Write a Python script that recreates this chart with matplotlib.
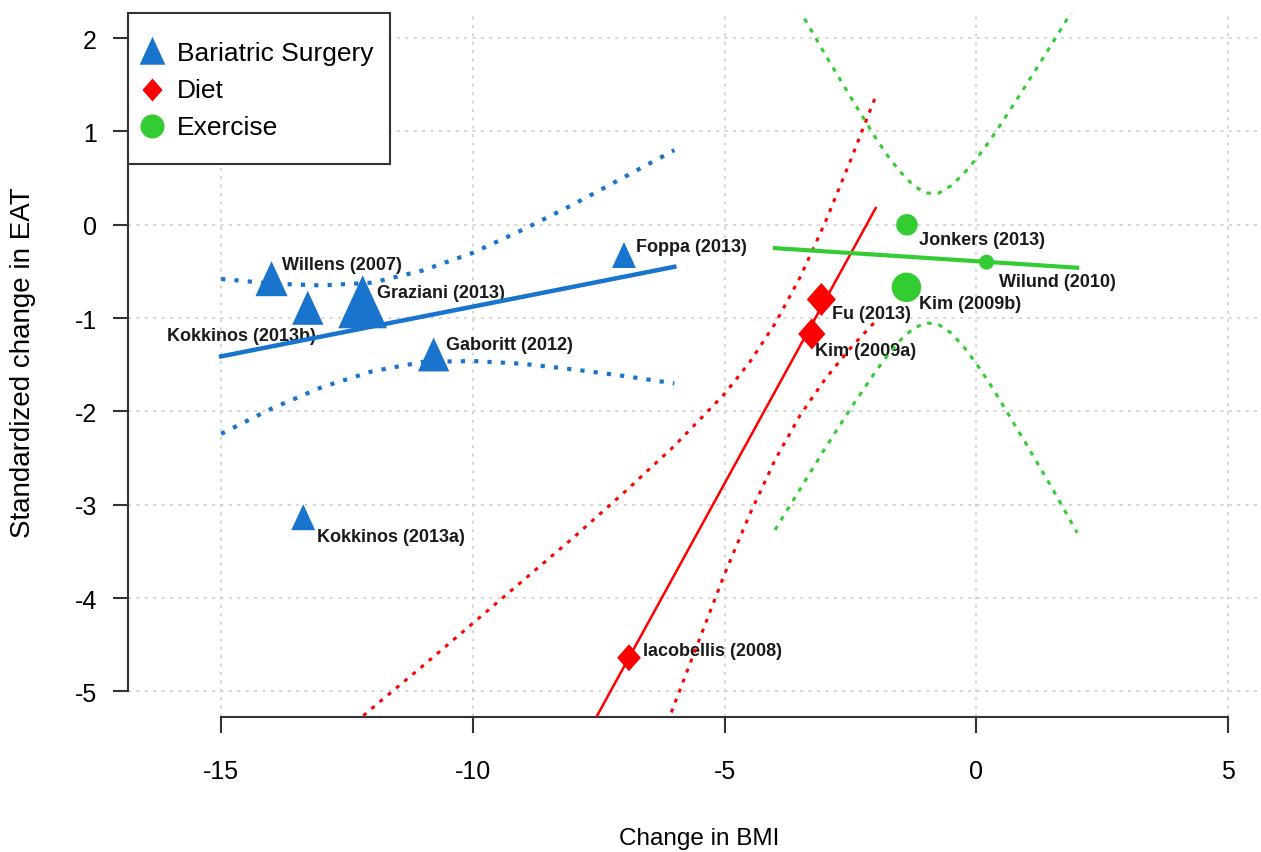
import matplotlib
matplotlib.use('Agg')
import matplotlib.pyplot as plt
from matplotlib.path import Path
from matplotlib.lines import Line2D
from matplotlib.patches import Rectangle

plt.rcParams['font.family'] = ['Liberation Sans', 'DejaVu Sans']
plt.rcParams['axes.unicode_minus'] = False

# --- bariatric surgery studies
bs_study = ['Willens (2007)', 'Kokkinos (2013b)', 'Graziani (2013)',
            'Gaboritt (2012)', 'Foppa (2013)', 'Kokkinos (2013a)']
bs_x = [-14.0, -13.28, -12.19, -10.78, -7.0, -13.37]
bs_y = [-0.64, -0.95, -0.92, -1.45, -0.37, -3.18]
bs_size = [35, 34, 53, 34, 26, 26]          # marker height, px

# --- diet studies
diet_study = ['Fu (2013)', 'Kim (2009a)', 'Iacobellis (2008)']
diet_x = [-3.08, -3.27, -6.90]
diet_y = [-0.80, -1.17, -4.64]
diet_size = [33, 31, 27]

# --- exercise studies
ex_study = ['Jonkers (2013)', 'Wilund (2010)', 'Kim (2009b)']
ex_x = [-1.38, 0.2, -1.39]
ex_y = [0.0, -0.40, -0.67]
ex_size = [21.5, 15, 29.5]

# --- meta-regression lines
bs_fit_x = [-15, -6]
bs_fit_y = [-1.41, -0.45]
diet_fit_x = [-8, -2]
diet_fit_y = [-5.72, 0.18]
ex_fit_x = [-4, 2]
ex_fit_y = [-0.25, -0.46]

# --- confidence bands
bs_band_x = [-15, -14, -13, -12, -11, -10, -9, -8, -7, -6]
bs_band_hi = [-0.58, -0.63, -0.65, -0.62, -0.49, -0.30, -0.05, 0.22, 0.51, 0.80]
bs_band_lo = [-2.24, -1.97, -1.74, -1.57, -1.47, -1.46, -1.49, -1.55, -1.62, -1.70]

diet_band_x = [-12.5, -12, -11, -10, -9, -8, -7, -6, -5, -4.5, -4, -3.5, -3, -2.5, -2]
diet_band_hi = [-5.41, -5.18, -4.73, -4.27, -3.81, -3.35, -2.87, -2.37, -1.81,
                -1.47, -1.06, -0.56, 0.03, 0.69, 1.38]
diet_band_lo = [-14.89, -14.13, -12.62, -11.10, -9.60, -8.10, -6.61, -5.14, -3.74,
                -3.10, -2.52, -2.04, -1.65, -1.32, -1.03]

ex_band_x = [-4, -3.5, -3, -2.5, -2, -1.75, -1.5, -1.25, -1, -0.75, -0.5, -0.25,
             0, 0.25, 0.5, 1, 1.5, 2]
ex_band_hi = [2.77, 2.29, 1.82, 1.37, 0.93, 0.73, 0.56, 0.42, 0.34, 0.34, 0.42, 0.55,
              0.71, 0.89, 1.09, 1.51, 1.94, 2.38]
ex_band_lo = [-3.27, -2.83, -2.39, -1.97, -1.57, -1.39, -1.23, -1.11, -1.05, -1.07,
              -1.16, -1.31, -1.49, -1.69, -1.91, -2.36, -2.82, -3.30]

# label offsets in pixels (dx, dy, ha)
bs_off = [(10, 20.5, 'left'), (8.5, -22.3, 'right'), (14.5, 18.2, 'left'),
          (12.2, 15.5, 'left'), (12, 13, 'left'), (13.7, -15.2, 'left')]
diet_off = [(11, -14.3, 'left'), (3, -16.4, 'left'), (13.7, 7, 'left')]
ex_off = [(12.4, -15, 'left'), (12, -19.2, 'left'), (13, -16, 'left')]

BLUE = '#1874CD'
RED = '#FF0000'
GREEN = '#33CC33'

tri = Path([(0, 1), (0.69, -0.5), (-0.69, -0.5), (0, 1)], closed=True)
diamond = Path([(0, 1), (0.88, 0), (0, -1), (-0.88, 0), (0, 1)], closed=True)
# legend versions, nudged down a little so they sit level with the text
tri_leg = Path([(0, 0.79), (0.69, -0.71), (-0.69, -0.71), (0, 0.79)], closed=True)
dia_leg = Path([(0, 0.87), (0.88, -0.13), (0, -1.13), (-0.88, -0.13), (0, 0.87)],
               closed=True)
circ_leg = Path.circle(center=(0, -0.08), radius=1)

fig = plt.figure(figsize=(12.61, 8.53), dpi=100)
ax = fig.add_axes([128 / 1261, 1 - 718 / 853, (1270 - 128) / 1261, (718 - 14) / 853])
ax.set_xlim(-16.85, 5.83)
ax.set_ylim(-5.275, 2.27)

ax.set_xticks([-15, -10, -5, 0, 5])
ax.set_yticks([-5, -4, -3, -2, -1, 0, 1, 2])
ax.tick_params(axis='x', length=11.5, width=1.5, pad=19, labelsize=18, color='#333333')
ax.tick_params(axis='y', length=11, width=1.5, pad=11.5, labelsize=18, color='#333333')
for side in ['top', 'right']:
    ax.spines[side].set_visible(False)
ax.spines['left'].set_bounds(-5, 2)
ax.spines['bottom'].set_bounds(-15, 5)
for side in ['left', 'bottom']:
    ax.spines[side].set_linewidth(1.5)
    ax.spines[side].set_color('#333333')
ax.grid(True, color='#cccccc', linestyle=(0, (2, 3.5)), linewidth=1.1)
ax.set_axisbelow(True)

# bands and fits
ax.plot(bs_band_x, bs_band_hi, color=BLUE, lw=3, dashes=(1, 2.2), zorder=3)
ax.plot(bs_band_x, bs_band_lo, color=BLUE, lw=3, dashes=(1, 2.2), zorder=3)
ax.plot(bs_fit_x, bs_fit_y, color=BLUE, lw=3.2, zorder=3)

ax.plot(diet_band_x, diet_band_hi, color=RED, lw=2.2, dashes=(1.3, 2.2), zorder=3)
ax.plot(diet_band_x, diet_band_lo, color=RED, lw=2.2, dashes=(1.3, 2.2), zorder=3)
ax.plot(diet_fit_x, diet_fit_y, color=RED, lw=1.8, zorder=3)

ax.plot(ex_band_x, ex_band_hi, color=GREEN, lw=2.2, dashes=(1.5, 2.2), zorder=3)
ax.plot(ex_band_x, ex_band_lo, color=GREEN, lw=2.2, dashes=(1.5, 2.2), zorder=3)
ax.plot(ex_fit_x, ex_fit_y, color=GREEN, lw=3, zorder=3)

# points
ax.scatter(bs_x, bs_y, s=[(h * 0.96) ** 2 for h in bs_size], marker=tri,
           color=BLUE, linewidths=0, zorder=4)
ax.scatter(diet_x, diet_y, s=[(h * 0.72) ** 2 for h in diet_size], marker=diamond,
           color=RED, linewidths=0, zorder=4)
ax.scatter(ex_x, ex_y, s=[(h * 0.72) ** 2 for h in ex_size], marker='o',
           color=GREEN, linewidths=0, zorder=4)

# study labels
for names, xs, ys, offs in [(bs_study, bs_x, bs_y, bs_off),
                            (diet_study, diet_x, diet_y, diet_off),
                            (ex_study, ex_x, ex_y, ex_off)]:
    for name, x, y, (dx, dy, ha) in zip(names, xs, ys, offs):
        ax.annotate(name, (x, y), xytext=(dx, dy), textcoords='offset pixels',
                    ha=ha, va='center', fontsize=13, fontweight='bold',
                    color='#1a1a1a', zorder=2)

# legend: R style box drawn by hand, entries by ax.legend
ax.add_patch(Rectangle((0, 1 - 151 / 704), 262 / 1142, 151 / 704,
                       transform=ax.transAxes, facecolor='white', edgecolor='#333333',
                       lw=1.5, zorder=9, clip_on=False))
handles = [
    Line2D([], [], ls='none', marker=tri_leg, ms=21.2, color=BLUE, mew=0),
    Line2D([], [], ls='none', marker=dia_leg, ms=18.7, color=RED, mew=0),
    Line2D([], [], ls='none', marker=circ_leg, ms=18.7, color=GREEN, mew=0),
]
leg = ax.legend(handles, ['Bariatric Surgery', 'Diet', 'Exercise'], loc='upper left',
                bbox_to_anchor=(0, 1 - 10 / 704), borderaxespad=0, fontsize=19,
                frameon=False, borderpad=0.7, handlelength=0.4, handletextpad=0.75,
                labelspacing=0.49)
leg.set_zorder(10)

fig.text(699 / 1261, 1 - 839 / 853, 'Change in BMI', fontsize=17.5, ha='center', va='center')
fig.text(23 / 1261, 1 - 363 / 853, 'Standardized change in EAT', fontsize=20,
         rotation=90, ha='center', va='center')

fig.savefig('out.png', dpi=100)
